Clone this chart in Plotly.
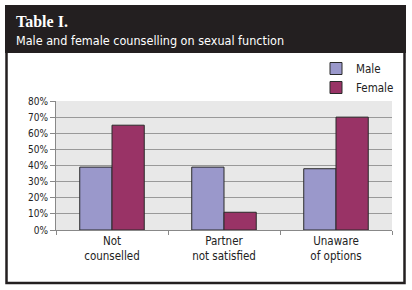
import plotly.graph_objects as go

categories = ["Not<br>counselled", "Partner<br>not satisfied", "Unaware<br>of options"]
male = [39, 39, 38]
female = [65, 11, 70]
y_ticks = [0, 10, 20, 30, 40, 50, 60, 70, 80]
y_labels = [f"{v}%" for v in y_ticks]

W, H = 412, 290
L, R, T, B = 56, 392, 101, 230

def px(x):
    return (x - L) / (R - L)

def py(y):
    return (B - y) / (B - T)

NARROW = "DejaVu Sans Condensed, Liberation Sans Narrow, sans-serif"

fig = go.Figure()
fig.add_bar(name="Male", x=categories, y=male, marker=dict(color="#9a98cb", line=dict(color="#2a2a2a", width=1)))
fig.add_bar(name="Female", x=categories, y=female, marker=dict(color="#993366", line=dict(color="#2a2a2a", width=1)))

shapes = [
    dict(type="rect", xref="paper", yref="paper", x0=px(5), x1=px(406), y0=py(53), y1=py(5),
         fillcolor="#231f20", line=dict(width=0), layer="above"),
    dict(type="rect", xref="paper", yref="paper", x0=px(6.5), x1=px(404.5), y0=py(283), y1=py(50),
         fillcolor="rgba(0,0,0,0)", line=dict(color="#231f20", width=2.5), layer="below"),
]

annotations = [
    dict(text="<b>Table I.</b>", xref="paper", yref="paper", x=px(14), y=py(21), xanchor="left", yanchor="middle",
         showarrow=False, font=dict(family="Liberation Serif, Times New Roman, serif", size=16, color="white")),
    dict(text="Male and female counselling on sexual function", xref="paper", yref="paper", x=px(14), y=py(40),
         xanchor="left", yanchor="middle", showarrow=False,
         font=dict(family=NARROW, size=12.5, color="white")),
]

fig.update_layout(
    width=W, height=H,
    margin=dict(l=L, r=W - R, t=T, b=H - B),
    paper_bgcolor="white",
    plot_bgcolor="#e8e8e8",
    barmode="group",
    bargap=0.424,
    bargroupgap=0,
    shapes=shapes,
    annotations=annotations,
    font=dict(family=NARROW, color="#222222"),
    legend=dict(x=px(316), y=py(54), xanchor="left", yanchor="top", bgcolor="rgba(0,0,0,0)",
                font=dict(family=NARROW, size=11.5, color="#222222"), tracegroupgap=2,
                itemwidth=30),
    xaxis=dict(showgrid=False, ticks="outside", tickson="boundaries", ticklen=4, tickcolor="#888888",
               showline=True, linecolor="#888888", linewidth=1,
               tickfont=dict(family=NARROW, size=11.5, color="#222222"), fixedrange=True),
    yaxis=dict(range=[0, 80], tickvals=y_ticks, ticktext=y_labels, showgrid=True, gridcolor="#999999",
               gridwidth=1, ticks="outside", ticklen=5, tickcolor="#888888", showline=True,
               linecolor="#888888", linewidth=1, zeroline=False,
               tickfont=dict(family=NARROW, size=10, color="#222222"), fixedrange=True),
    showlegend=True,
)

fig.write_html("out.html", config={"displayModeBar": False},
               post_script="document.body.style.margin='0';document.body.style.overflow='hidden';")
